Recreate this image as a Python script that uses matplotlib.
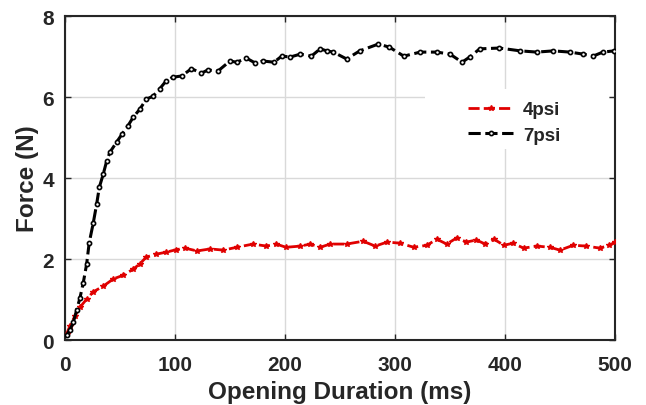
import numpy as np
import matplotlib.pyplot as plt
from matplotlib.patches import Rectangle

plt.rcParams['font.family'] = ['Liberation Sans', 'DejaVu Sans']
plt.rcParams['font.weight'] = 'bold'

# 7psi series (time ms, force N)
t7 = [1.5, 4.5, 7.6, 10.6, 13.6, 16.6, 19.7, 22, 25.7, 28.8, 31.2, 34.8, 37.9, 40.9,
      47, 52, 57, 62, 68, 74, 80, 86, 92, 98, 106, 115, 124, 130, 139, 150, 156, 165,
      173, 180, 190, 197, 205, 214, 224, 232, 238, 244, 256, 268, 285, 295, 308, 323,
      338, 350, 361, 368, 377, 395, 414, 429, 444, 459, 471, 480, 489, 499]
f7 = [0.12, 0.25, 0.44, 0.74, 1.04, 1.41, 1.88, 2.4, 2.89, 3.36, 3.77, 4.1, 4.42, 4.64,
      4.89, 5.09, 5.28, 5.5, 5.7, 5.95, 6.02, 6.2, 6.4, 6.49, 6.52, 6.7, 6.59, 6.67, 6.64,
      6.89, 6.86, 6.96, 6.84, 6.89, 6.86, 7.01, 6.99, 7.06, 7.01, 7.19, 7.14, 7.11, 6.94,
      7.14, 7.31, 7.23, 7.01, 7.11, 7.11, 7.06, 6.86, 6.99, 7.19, 7.21, 7.14, 7.11, 7.14,
      7.11, 7.06, 7.01, 7.11, 7.14]

# 4psi series
t4 = [1.5, 4.5, 9, 13.6, 19.7, 25.7, 34.8, 44, 53, 62, 68, 74, 83, 92, 101, 109, 120,
      132, 144, 156, 171, 183, 192, 201, 214, 223, 232, 241, 256, 271, 282, 293, 305,
      317, 329, 338, 347, 356, 365, 374, 382, 390, 399, 407, 417, 429, 441, 450, 462,
      474, 486, 495, 500]
f4 = [0.15, 0.35, 0.59, 0.81, 1.01, 1.19, 1.33, 1.51, 1.6, 1.75, 1.88, 2.05, 2.12, 2.17,
      2.23, 2.27, 2.2, 2.25, 2.22, 2.29, 2.37, 2.32, 2.37, 2.29, 2.32, 2.37, 2.29, 2.37,
      2.37, 2.44, 2.32, 2.42, 2.39, 2.29, 2.34, 2.49, 2.37, 2.52, 2.42, 2.47, 2.37, 2.49,
      2.34, 2.39, 2.27, 2.32, 2.29, 2.22, 2.34, 2.32, 2.27, 2.34, 2.42]

fig = plt.figure(figsize=(6.46, 4.06), dpi=100)
ax = fig.add_axes([0.1006, 0.160, 0.8514, 0.798])

ax.plot(t4, f4, color='#e00000', dashes=(4, 1.5), linewidth=2, marker='*',
        markersize=4, label='4psi', zorder=3)
ax.plot(t7, f7, color='black', dashes=(4, 1.5), linewidth=2.2, marker='o',
        markersize=3, markerfacecolor='white', markeredgewidth=1.2, label='7psi', zorder=3)

ax.set_xlim(0, 500)
ax.set_ylim(0, 8)
ax.set_xticks([0, 100, 200, 300, 400, 500])
ax.set_yticks([0, 2, 4, 6, 8])
ax.set_axisbelow(True)
ax.grid(True, color='#d9d9d9', linewidth=1)
ax.tick_params(direction='in', top=True, right=True, length=4, width=1,
               labelsize=15, colors='#262626')
ax.tick_params(axis='x', pad=11)
ax.tick_params(axis='y', pad=8)
for s in ax.spines.values():
    s.set_color('#262626')
    s.set_linewidth(1.5)

ax.set_xlabel('Opening Duration (ms)', fontsize=17.5, fontweight='bold',
              color='#262626', labelpad=4)
ax.set_ylabel('Force (N)', fontsize=17.5, fontweight='bold', color='#262626', labelpad=2)

# white legend backing box, MATLAB style
ax.add_patch(Rectangle((0.655, 0.59), 0.335, 0.185, transform=ax.transAxes,
                       facecolor='white', edgecolor='none', zorder=1))
leg = ax.legend(loc='upper left', bbox_to_anchor=(0.72, 0.76), frameon=False,
                fontsize=13.5, handlelength=2.4, handletextpad=0.5, labelspacing=0.45,
                borderaxespad=0)
for txt in leg.get_texts():
    txt.set_fontweight('bold')
    txt.set_color('#262626')

fig.savefig('out.png', dpi=100)
